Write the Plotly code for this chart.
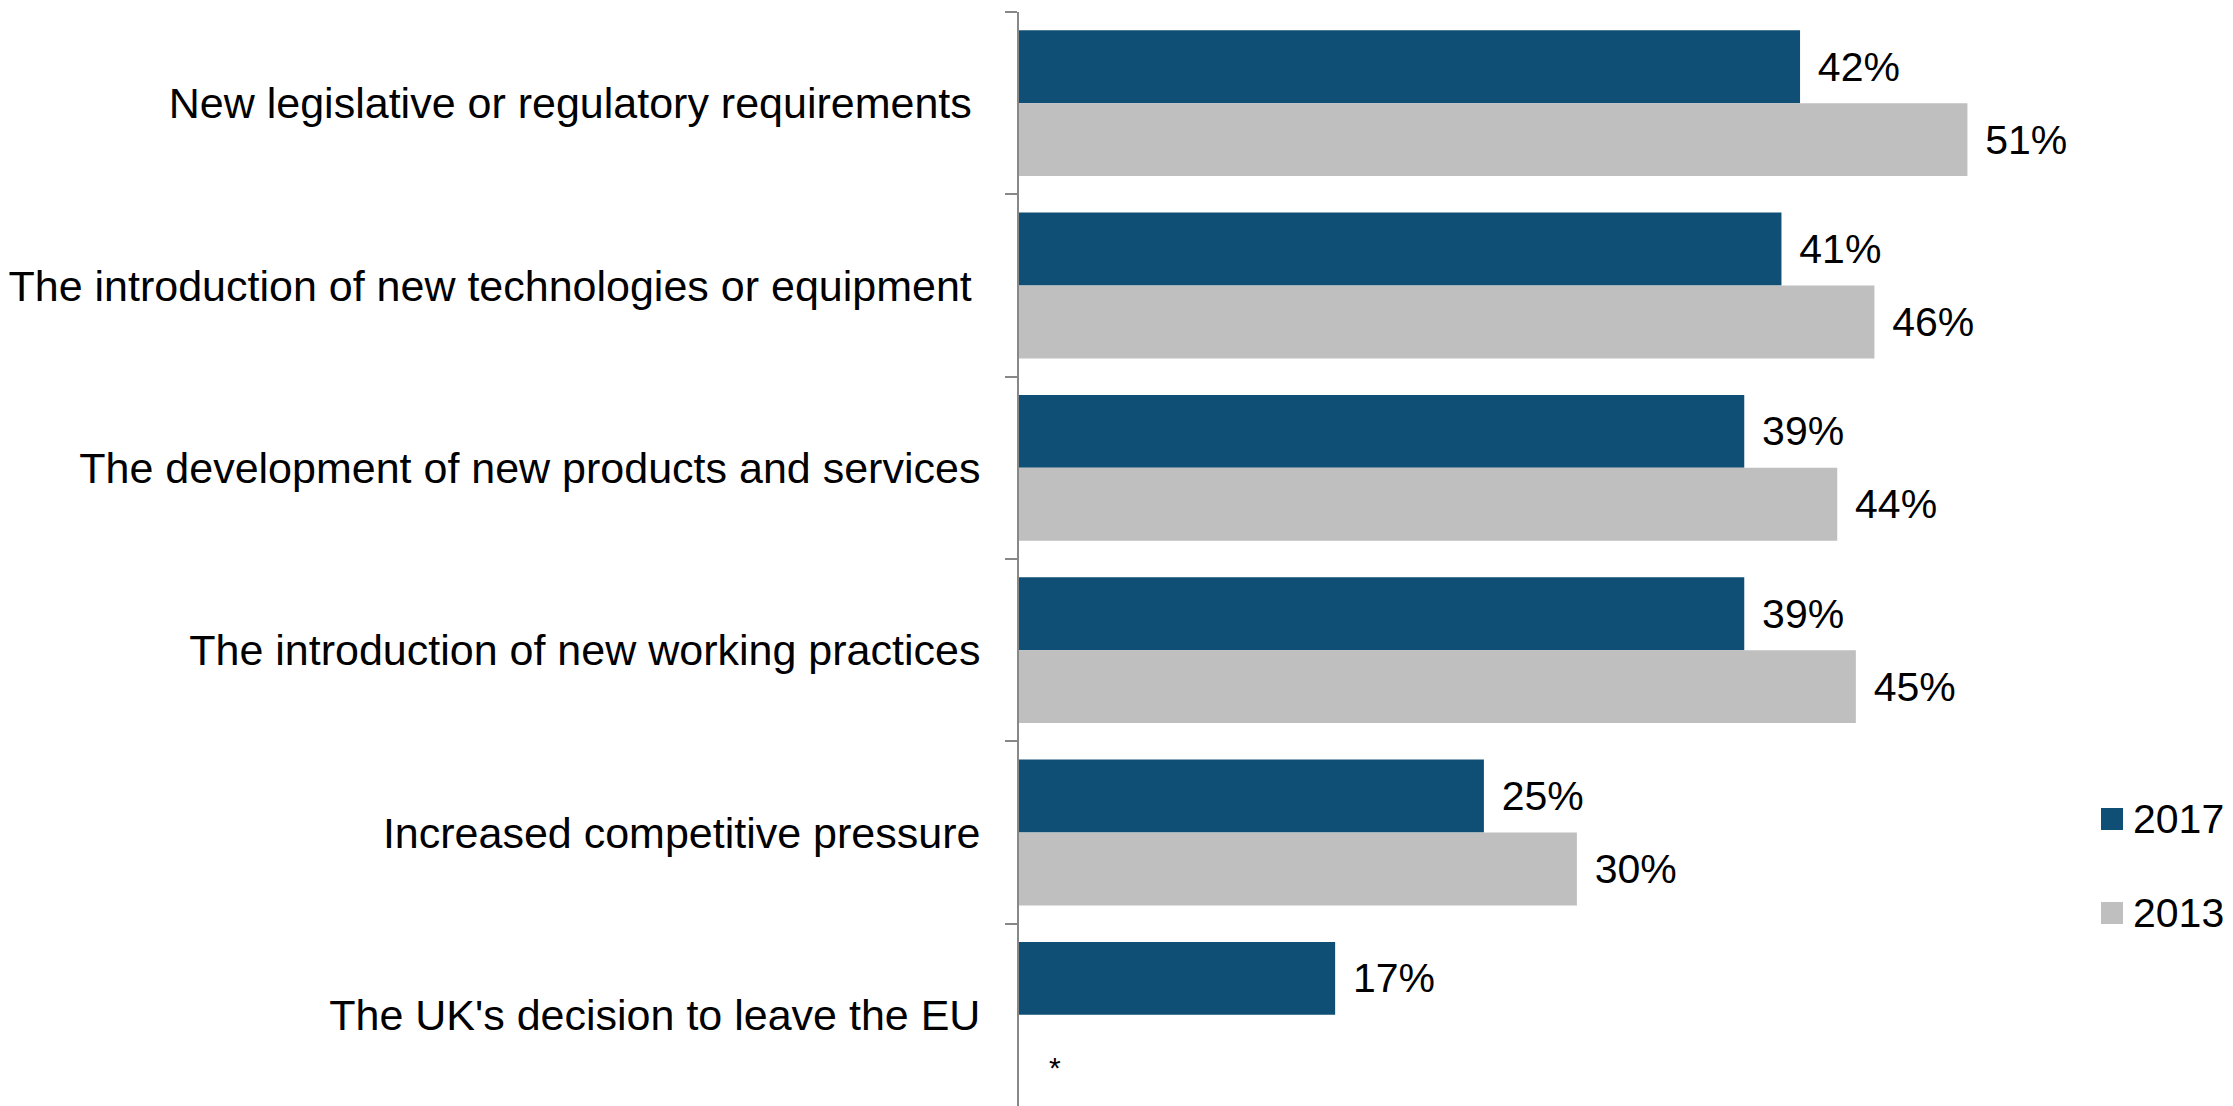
import plotly.graph_objects as go

# Survey drivers of change, 2017 vs 2013 (% of respondents)
categories = [
    "New legislative or regulatory requirements\u2009",
    "The introduction of new technologies or equipment\u2009",
    "The development of new products and services",
    "The introduction of new working practices",
    "Increased competitive pressure",
    "The UK's decision to leave the EU",
]
values_2017 = [42, 41, 39, 39, 25, 17]
values_2013 = [51, 46, 44, 45, 30, None]
series_names = ["2017", "2013"]
series_colors = ["#104F75", "#BFBFBF"]

W, H = 2233, 1106
L, R, T, B = 1019, 154, 12, 0
FONT = "Liberation Sans, Arial, sans-serif"


def label(v):
    return "" if v is None else f"\u00a0\u200a{v}%"


fig = go.Figure()
for name, vals, col in zip(series_names, [values_2017, values_2013], series_colors):
    fig.add_trace(go.Bar(
        name=name,
        orientation="h",
        x=vals,
        y=categories,
        marker=dict(color=col, line=dict(width=0)),
        text=[label(v) for v in vals],
        textposition="outside",
        textfont=dict(family=FONT, size=41, color="#000000"),
        cliponaxis=False,
        showlegend=False,
    ))


def px_x(p):
    return (p - L) / (W - L - R)


def px_y(p):
    return (H - B - p) / (H - T - B)


# Legend drawn as square swatches with labels on the right
shapes = []
annotations = []
legend_centers = [819, 913]
for name, col, cy in zip(series_names, series_colors, legend_centers):
    shapes.append(dict(
        type="rect", xref="paper", yref="paper",
        x0=px_x(2101), x1=px_x(2123), y0=px_y(cy + 11), y1=px_y(cy - 11),
        fillcolor=col, line=dict(width=0),
    ))
    annotations.append(dict(
        xref="paper", yref="paper", x=px_x(2131), y=px_y(cy),
        xanchor="left", yanchor="middle", showarrow=False, text=name,
        font=dict(family=FONT, size=41, color="#000000"),
    ))

# Footnote marker where the 2013 figure is not available
annotations.append(dict(
    xref="paper", yref="paper", x=px_x(1055), y=px_y(1067),
    xanchor="center", yanchor="middle", showarrow=False, text="*",
    font=dict(family=FONT, size=30, color="#000000"),
))

fig.update_layout(
    width=W, height=H,
    margin=dict(l=L, r=R, t=T, b=B, pad=0),
    paper_bgcolor="#FFFFFF", plot_bgcolor="#FFFFFF",
    barmode="group", bargap=0.2, bargroupgap=0,
    font=dict(family=FONT, size=41, color="#000000"),
    shapes=shapes, annotations=annotations,
    showlegend=False,
)
fig.update_xaxes(visible=False, range=[0, 57], fixedrange=True)
fig.update_yaxes(
    autorange="reversed",
    showline=True, linecolor="#888888", linewidth=2,
    ticks="outside", tickson="boundaries", ticklen=12,
    tickcolor="#888888", tickwidth=2,
    ticklabelstandoff=28,
    tickfont=dict(family=FONT, size=43, color="#000000"),
    showgrid=False, zeroline=False,
)

fig.write_html("out.html")
